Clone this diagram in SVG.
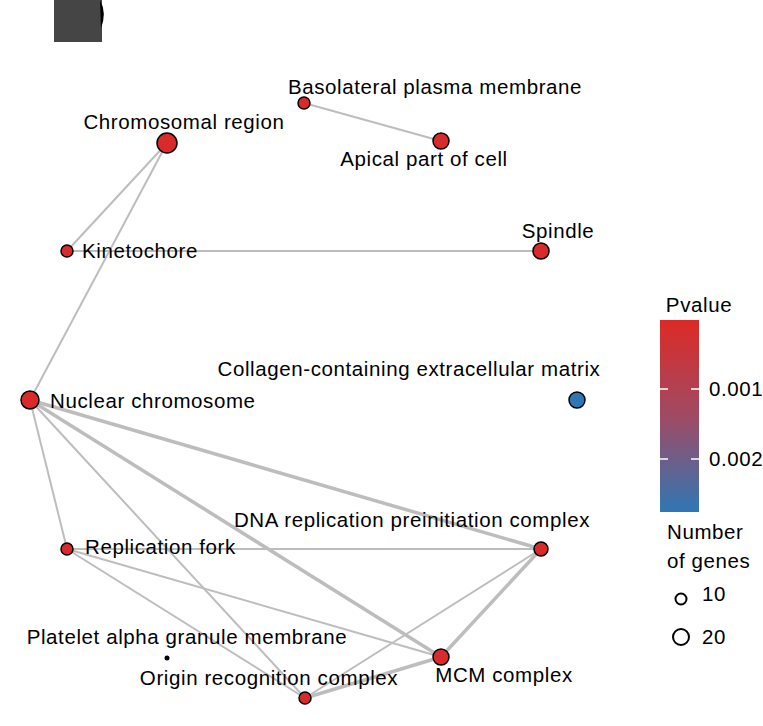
<svg xmlns="http://www.w3.org/2000/svg" width="763" height="726" viewBox="0 0 763 726">
<style>
text{font-family:"Liberation Sans",Arial,sans-serif;font-size:20.5px;letter-spacing:0.6px;fill:#000}
.e{stroke:#bdbdbd;stroke-width:2;fill:none}
.t{stroke:#bdbdbd;stroke-width:3.5;fill:none}
.n{fill:#d92b2b;stroke:#000;stroke-width:1.5}
</style>
<defs><linearGradient id="g" x1="0" y1="0" x2="0" y2="1"><stop offset="0" stop-color="#dc2a26"/><stop offset="0.5" stop-color="#a04a64"/><stop offset="1" stop-color="#2f77b4"/></linearGradient></defs>
<rect width="763" height="726" fill="#fff"/>
<path d="M54 0H102V42H54Z" fill="#454545"/>
<path d="M100 0Q107 13 101 28Z" fill="#000"/>
<g id="connectors">
<line class="e" x1="304" y1="103" x2="441" y2="141"/>
<line class="e" x1="167" y1="143" x2="67" y2="251"/>
<line class="e" x1="167" y1="143" x2="30" y2="400"/>
<line class="e" x1="67" y1="251" x2="541" y2="251"/>
<line class="e" x1="30" y1="400" x2="67" y2="549"/>
<line class="t" x1="30" y1="400" x2="541" y2="549"/>
<line class="t" x1="30" y1="400" x2="441" y2="657"/>
<line class="e" x1="30" y1="400" x2="305" y2="698"/>
<line class="e" x1="67" y1="549" x2="541" y2="549"/>
<line class="e" x1="67" y1="549" x2="441" y2="657"/>
<line class="e" x1="67" y1="549" x2="305" y2="698"/>
<line class="t" x1="541" y1="549" x2="441" y2="657"/>
<line class="e" x1="541" y1="549" x2="305" y2="698"/>
<line class="t" x1="441" y1="657" x2="305" y2="698"/>
</g>
<g id="basolateral"><circle class="n" cx="304" cy="103" r="6"/><text x="435" y="94" text-anchor="middle">Basolateral plasma membrane</text></g>
<g id="apical"><circle class="n" cx="441" cy="141" r="8"/><text x="424" y="166" text-anchor="middle">Apical part of cell</text></g>
<g id="chromosomal"><circle class="n" cx="167" cy="143" r="10"/><text x="184" y="129" text-anchor="middle">Chromosomal region</text></g>
<g id="kinetochore"><circle class="n" cx="67" cy="251" r="6"/><text x="82" y="258">Kinetochore</text></g>
<g id="spindle"><circle class="n" cx="541" cy="251" r="8"/><text x="558" y="238" text-anchor="middle">Spindle</text></g>
<g id="collagen"><circle cx="577" cy="400" r="8" fill="#2f77b4" stroke="#000" stroke-width="1.5"/><text x="409" y="376" text-anchor="middle">Collagen-containing extracellular matrix</text></g>
<g id="nuclear"><circle class="n" cx="30" cy="400" r="9"/><text x="50" y="408">Nuclear chromosome</text></g>
<g id="repfork"><circle class="n" cx="67" cy="549" r="6"/><text x="85" y="554">Replication fork</text></g>
<g id="dnaprein"><circle class="n" cx="541" cy="549" r="7"/><text x="412" y="527" text-anchor="middle">DNA replication preinitiation complex</text></g>
<g id="platelet"><circle cx="167" cy="658" r="2.5" fill="#000"/><text x="187" y="644" text-anchor="middle">Platelet alpha granule membrane</text></g>
<g id="origin"><circle class="n" cx="305" cy="698" r="6"/><text x="269" y="685" text-anchor="middle">Origin recognition complex</text></g>
<g id="mcm"><circle class="n" cx="441" cy="657" r="8"/><text x="504" y="682" text-anchor="middle">MCM complex</text></g>
<g id="legend">
<text x="699" y="312" text-anchor="middle">Pvalue</text>
<rect x="660" y="320" width="39" height="192" fill="url(#g)"/>
<g stroke="#fff" stroke-width="1.5"><line x1="660" y1="389" x2="668" y2="389"/><line x1="691" y1="389" x2="699" y2="389"/><line x1="660" y1="459" x2="668" y2="459"/><line x1="691" y1="459" x2="699" y2="459"/></g>
<text x="709" y="396">0.001</text>
<text x="709" y="466">0.002</text>
<text x="667" y="539">Number</text>
<text x="667" y="568">of genes</text>
<circle cx="681" cy="599" r="5.5" fill="none" stroke="#000" stroke-width="2"/>
<text x="702" y="601">10</text>
<circle cx="681" cy="637" r="8" fill="none" stroke="#000" stroke-width="2"/>
<text x="702" y="644">20</text>
</g>
</svg>
